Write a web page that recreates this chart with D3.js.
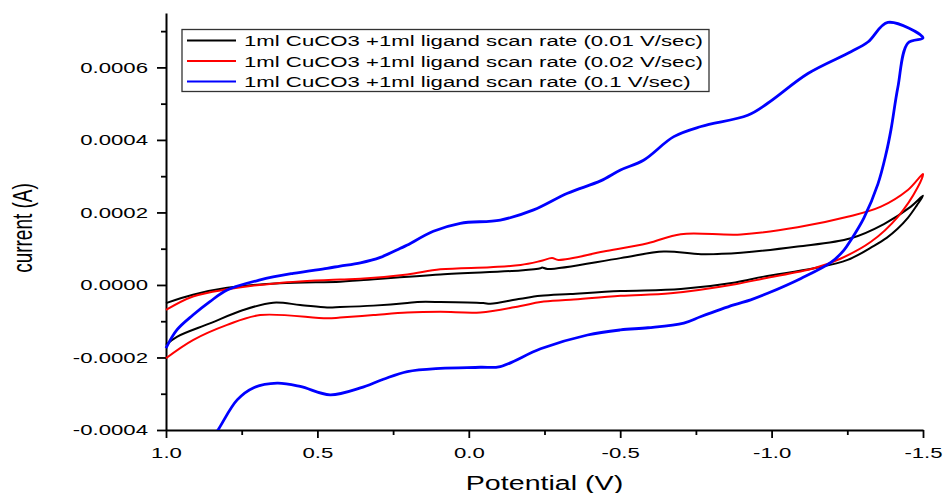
<!DOCTYPE html>
<html>
<head>
<meta charset="utf-8">
<script src="https://cdn.jsdelivr.net/npm/d3@7/dist/d3.min.js"></script>
<style>
  html, body { margin: 0; padding: 0; background: #fff; }
  svg { display: block; font-family: "Liberation Sans", Arial, sans-serif; }
</style>
</head>
<body>
<svg id="chart" width="943" height="493"></svg>
<script>
// ---------- data (potential in V, current in A) ----------
const seriesNames = [
  "1ml CuCO3 +1ml ligand scan rate (0.01 V/sec)",
  "1ml CuCO3 +1ml ligand scan rate (0.02 V/sec)",
  "1ml CuCO3 +1ml ligand scan rate (0.1 V/sec)"
];
const seriesColors = ["#000000", "#ff0000", "#0000ff"];

const blackV = [1.0, 0.911, 0.798, 0.623, 0.425, 0.358, 0.094, -0.171, -0.237, -0.242, -0.26, -0.501, -0.644, -0.767, -0.899, -1.086, -1.262, -1.371, -1.46, -1.5,
  -1.48, -1.45, -1.416, -1.38, -1.338, -1.251, -1.140, -0.974, -0.88, -0.700, -0.501, -0.336, -0.237, -0.171, -0.071, -0.048, 0.094, 0.170, 0.203, 0.315, 0.425, 0.468, 0.557, 0.646, 0.745, 0.855, 0.964, 1.0];
const blackI = [-0.50e-4, -0.27e-4, -0.08e-4, 0.05e-4, 0.09e-4, 0.13e-4, 0.29e-4, 0.40e-4, 0.46e-4, 0.48e-4, 0.44e-4, 0.74e-4, 0.92e-4, 0.85e-4, 0.89e-4, 1.06e-4, 1.29e-4, 1.68e-4, 2.16e-4, 2.46e-4,
  2.20e-4, 1.85e-4, 1.55e-4, 1.30e-4, 1.08e-4, 0.69e-4, 0.46e-4, 0.23e-4, 0.07e-4, -0.11e-4, -0.17e-4, -0.25e-4, -0.30e-4, -0.38e-4, -0.52e-4, -0.50e-4, -0.47e-4, -0.47e-4, -0.50e-4, -0.57e-4, -0.61e-4, -0.62e-4, -0.55e-4, -0.49e-4, -0.69e-4, -1.06e-4, -1.43e-4, -1.65e-4];

const redV = [1.0, 0.911, 0.798, 0.633, 0.425, 0.358, 0.203, 0.094, -0.071, -0.171, -0.237, -0.275, -0.296, -0.445, -0.591, -0.700, -0.899, -1.086, -1.251, -1.361, -1.450, -1.5,
  -1.483, -1.417, -1.328, -1.229, -1.140, -0.974, -0.88, -0.667, -0.501, -0.336, -0.237, -0.171, -0.038, 0.094, 0.203, 0.315, 0.425, 0.468, 0.689, 0.798, 0.911, 1.0];
const redI = [-0.69e-4, -0.32e-4, -0.12e-4, 0.05e-4, 0.15e-4, 0.17e-4, 0.29e-4, 0.43e-4, 0.49e-4, 0.55e-4, 0.66e-4, 0.74e-4, 0.69e-4, 0.92e-4, 1.15e-4, 1.40e-4, 1.39e-4, 1.59e-4, 1.88e-4, 2.16e-4, 2.62e-4, 3.06e-4,
  2.70e-4, 1.88e-4, 1.19e-4, 0.73e-4, 0.46e-4, 0.18e-4, 0.02e-4, -0.23e-4, -0.30e-4, -0.41e-4, -0.47e-4, -0.58e-4, -0.76e-4, -0.74e-4, -0.76e-4, -0.83e-4, -0.90e-4, -0.92e-4, -0.83e-4, -1.10e-4, -1.52e-4, -2.02e-4];

const blueV = [1.0, 0.964, 0.911, 0.855, 0.798, 0.689, 0.580, 0.468, 0.425, 0.358, 0.292, 0.226, 0.203, 0.117, 0.028, -0.104, -0.214, -0.326, -0.435, -0.501, -0.577, -0.677, -0.767, -0.921, -0.987, -1.120, -1.262, -1.318, -1.384, -1.5,
  -1.450, -1.417, -1.394, -1.378, -1.351, -1.305, -1.262, -1.239, -1.196, -1.097, -0.987, -0.931, -0.875, -0.767, -0.710, -0.592, -0.501, -0.392, -0.237, -0.104, -0.038, 0.094, 0.203, 0.282, 0.358, 0.458, 0.557, 0.633, 0.712, 0.765, 0.821, 0.87];
const blueI = [-1.74e-4, -1.24e-4, -0.83e-4, -0.46e-4, -0.14e-4, 0.14e-4, 0.32e-4, 0.46e-4, 0.52e-4, 0.61e-4, 0.76e-4, 1.01e-4, 1.10e-4, 1.48e-4, 1.70e-4, 1.79e-4, 2.07e-4, 2.53e-4, 2.87e-4, 3.17e-4, 3.44e-4, 4.09e-4, 4.37e-4, 4.68e-4, 5.01e-4, 5.83e-4, 6.43e-4, 6.70e-4, 7.24e-4, 6.81e-4,
  6.67e-4, 5.45e-4, 4.27e-4, 3.62e-4, 2.78e-4, 1.85e-4, 1.24e-4, 0.96e-4, 0.62e-4, 0.18e-4, -0.23e-4, -0.41e-4, -0.55e-4, -0.87e-4, -1.05e-4, -1.18e-4, -1.24e-4, -1.38e-4, -1.76e-4, -2.25e-4, -2.27e-4, -2.30e-4, -2.39e-4, -2.60e-4, -2.84e-4, -3.03e-4, -2.80e-4, -2.71e-4, -2.84e-4, -3.17e-4, -3.90e-4, -4.60e-4];

const xTicks = [1.0, 0.5, 0.0, -0.5, -1.0, -1.5];
const xTickLabels = ["1.0", "0.5", "0.0", "-0.5", "-1.0", "-1.5"];
const xMinorTicks = [0.75, 0.25, -0.25, -0.75, -1.25];
const yTicks = [-0.0004, -0.0002, 0.0, 0.0002, 0.0004, 0.0006];
const yTickLabels = ["-0.0004", "-0.0002", "0.0000", "0.0002", "0.0004", "0.0006"];
const yMinorTicks = [-0.0003, -0.0001, 0.0001, 0.0003, 0.0005, 0.0007];

const xTitle = "Potential (V)";
const yTitle = "current (A)";

// ---------- layout ----------
const STRETCH = 1.43;
const plotLeft = 166, plotRight = 923, plotTop = 13, plotBottom = 430;

const svg = d3.select("#chart");
const x = d3.scaleLinear().domain([1.0, -1.5]).range([plotLeft, plotRight]);
const y = d3.scaleLinear().domain([-0.0004, 0.00075]).range([plotBottom, plotTop]);

svg.append("defs").append("clipPath").attr("id", "plotclip")
  .append("rect").attr("x", 0).attr("y", 0).attr("width", 943).attr("height", plotBottom);

// minor ticks
svg.append("g").attr("transform", `translate(0,${plotBottom})`)
  .call(d3.axisBottom(x).tickValues(xMinorTicks).tickSize(5).tickSizeOuter(0).tickFormat(""))
  .call(g => g.select(".domain").remove())
  .call(g => g.selectAll("line").attr("stroke-width", 1.8));
svg.append("g").attr("transform", `translate(${plotLeft},0)`)
  .call(d3.axisLeft(y).tickValues(yMinorTicks).tickSize(5).tickSizeOuter(0).tickFormat(""))
  .call(g => g.select(".domain").remove())
  .call(g => g.selectAll("line").attr("stroke-width", 1.8));

// major axes
const xAxis = svg.append("g").attr("transform", `translate(0,${plotBottom})`)
  .call(d3.axisBottom(x).tickValues(xTicks).tickSize(8).tickSizeOuter(0).tickPadding(6)
    .tickFormat((d, i) => xTickLabels[i]));
const yAxis = svg.append("g").attr("transform", `translate(${plotLeft},0)`)
  .call(d3.axisLeft(y).tickValues(yTicks).tickSize(9).tickSizeOuter(0).tickPadding(9)
    .tickFormat((d, i) => yTickLabels[i]));

[xAxis, yAxis].forEach(a => {
  a.select(".domain").attr("stroke-width", 2).attr("stroke", "#000");
  a.selectAll(".tick line").attr("stroke-width", 1.8);
  a.selectAll(".tick text").attr("font-size", 15.5).attr("fill", "#000")
    .attr("font-family", "'Liberation Sans', Arial, sans-serif").classed("stretch", true);
});
xAxis.selectAll(".tick text").attr("dy", null).attr("y", 28);

// curves
const line = d3.line().x(d => x(d[0])).y(d => y(d[1])).curve(d3.curveCatmullRom.alpha(0.5));
const series = [
  { V: blackV, I: blackI, w: 2 },
  { V: redV, I: redI, w: 2 },
  { V: blueV, I: blueI, w: 2.8 }
];
const plot = svg.append("g").attr("clip-path", "url(#plotclip)");
series.forEach((s, k) => {
  plot.append("path")
    .datum(s.V.map((v, i) => [v, s.I[i]]))
    .attr("fill", "none")
    .attr("stroke", seriesColors[k])
    .attr("stroke-width", s.w)
    .attr("stroke-linejoin", "round")
    .attr("d", line);
});

// legend
const lg = svg.append("g");
lg.append("rect").attr("x", 182).attr("y", 29.5).attr("width", 527).attr("height", 62)
  .attr("fill", "#fff").attr("stroke", "#333").attr("stroke-width", 1.3);
const rowY = [40.5, 61, 81.5];
seriesNames.forEach((name, k) => {
  lg.append("line").attr("x1", 187).attr("x2", 236).attr("y1", rowY[k]).attr("y2", rowY[k])
    .attr("stroke", seriesColors[k]).attr("stroke-width", 2);
  lg.append("text").attr("x", 244).attr("y", rowY[k] + 5.6)
    .attr("font-size", 15.5).attr("fill", "#000").classed("stretch", true).text(name);
});

// axis titles
svg.append("text").attr("x", (plotLeft + plotRight) / 2).attr("y", 490)
  .attr("text-anchor", "middle").attr("font-size", 20).attr("fill", "#000")
  .classed("stretch", true).text(xTitle);
svg.append("text")
  .attr("transform", `translate(32,228) rotate(-90) scale(1,${STRETCH})`)
  .attr("text-anchor", "middle").attr("font-size", 19).attr("fill", "#000")
  .text(yTitle);

// horizontal stretch of text to match the reference's aspect
svg.selectAll("text.stretch").each(function() {
  const w = this.getComputedTextLength();
  d3.select(this).attr("textLength", w * STRETCH).attr("lengthAdjust", "spacingAndGlyphs");
});
</script>
</body>
</html>
